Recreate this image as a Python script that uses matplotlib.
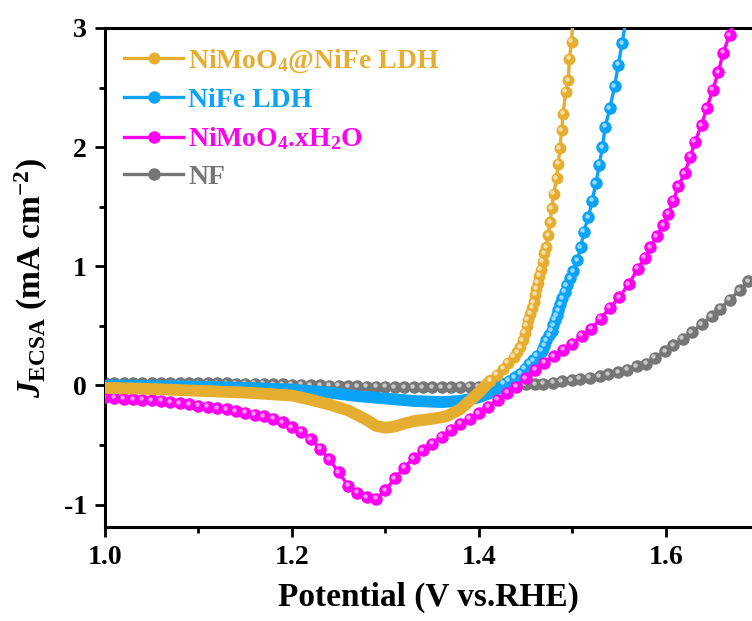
import matplotlib
matplotlib.use('Agg')
import matplotlib.pyplot as plt
from matplotlib.transforms import offset_copy
import numpy as np

plt.rcParams['font.family'] = 'Liberation Serif'
plt.rcParams['font.weight'] = 'bold'
plt.rcParams['axes.labelweight'] = 'bold'
plt.rcParams['mathtext.fontset'] = 'custom'
plt.rcParams['mathtext.rm'] = 'Liberation Serif:bold'
plt.rcParams['mathtext.bf'] = 'Liberation Serif:bold'
plt.rcParams['mathtext.it'] = 'Liberation Serif:bold:italic'
plt.rcParams['mathtext.default'] = 'rm'

# data (potential in V vs RHE, J in mA cm-2)
# NiMoO4@NiFe LDH
gold_v = [1.00, 1.05, 1.10, 1.15, 1.20, 1.22, 1.24, 1.26, 1.28, 1.29, 1.30, 1.31, 1.32,
          1.33, 1.35, 1.365, 1.38, 1.39, 1.40,
          1.412, 1.419, 1.426, 1.431, 1.437, 1.441, 1.444, 1.447, 1.449, 1.451, 1.452,
          1.455, 1.457, 1.4585, 1.460, 1.4615, 1.463, 1.4645, 1.466, 1.468, 1.470, 1.4717,
          1.474, 1.476, 1.4777, 1.480, 1.483, 1.4848, 1.4866, 1.4884, 1.490, 1.4927,
          1.4955, 1.4966, 1.499, 1.5005]
gold_j = [-0.02, -0.03, -0.045, -0.06, -0.085, -0.12, -0.16, -0.21, -0.29, -0.34, -0.355, -0.345, -0.32,
          -0.30, -0.28, -0.26, -0.20, -0.13, -0.06,
          0.04, 0.09, 0.14, 0.19, 0.24, 0.28, 0.32, 0.38, 0.44, 0.50, 0.55,
          0.60, 0.65, 0.70, 0.76, 0.81, 0.86, 0.92, 0.97, 1.04, 1.11, 1.16,
          1.26, 1.37, 1.485, 1.61, 1.74, 1.86, 1.99, 2.14, 2.28, 2.465,
          2.56, 2.74, 2.885, 3.08]

# NiFe LDH
blue_v = [1.00, 1.05, 1.10, 1.15, 1.20, 1.24, 1.27, 1.30, 1.33, 1.36, 1.38, 1.40, 1.41, 1.42,
          1.426, 1.432, 1.438, 1.444, 1.449, 1.454, 1.458, 1.462, 1.467, 1.470, 1.472,
          1.475, 1.478, 1.4795, 1.481, 1.483, 1.485, 1.487, 1.489, 1.4915, 1.494, 1.4975,
          1.501, 1.505, 1.509, 1.512, 1.517, 1.521, 1.525, 1.5287, 1.532, 1.535, 1.540,
          1.545, 1.549, 1.553, 1.5575]
blue_j = [0.00, -0.005, -0.01, -0.02, -0.035, -0.06, -0.09, -0.11, -0.13, -0.14, -0.13, -0.10, -0.07, -0.03,
          0.015, 0.04, 0.07, 0.10, 0.14, 0.18, 0.21, 0.25, 0.29, 0.335, 0.38,
          0.42, 0.46, 0.505, 0.55, 0.59, 0.63, 0.68, 0.73, 0.785, 0.84, 0.90,
          0.96, 1.05, 1.16, 1.29, 1.41, 1.55, 1.695, 1.85, 2.00, 2.17, 2.325,
          2.51, 2.69, 2.87, 3.08]

# NiMoO4.xH2O
pink_v = [1.00, 1.01, 1.02, 1.03, 1.04, 1.05, 1.06, 1.07, 1.08, 1.09,
          1.10, 1.11, 1.12, 1.13, 1.14, 1.15, 1.16, 1.17, 1.18, 1.19,
          1.20, 1.21, 1.22, 1.23, 1.24, 1.25, 1.26, 1.27, 1.28, 1.29,
          1.30, 1.31, 1.32, 1.33, 1.34, 1.35, 1.36, 1.37, 1.38, 1.39,
          1.40, 1.41, 1.42, 1.43, 1.44, 1.45, 1.46, 1.47, 1.48, 1.49,
          1.50, 1.51, 1.52, 1.53, 1.54, 1.55, 1.56, 1.57,
          1.5775, 1.583, 1.590, 1.597, 1.6025, 1.608, 1.613, 1.620, 1.626, 1.631,
          1.638, 1.6435, 1.650, 1.656, 1.661, 1.668, 1.674]
pink_j = [-0.10, -0.105, -0.11, -0.115, -0.12, -0.125, -0.13, -0.14, -0.15, -0.16,
          -0.17, -0.18, -0.19, -0.20, -0.215, -0.23, -0.245, -0.26, -0.28, -0.31,
          -0.35, -0.39, -0.45, -0.53, -0.62, -0.73, -0.84, -0.90, -0.94, -0.95,
          -0.88, -0.78, -0.69, -0.61, -0.545, -0.49, -0.43, -0.37, -0.32, -0.28,
          -0.235, -0.18, -0.12, -0.06, -0.01, 0.06, 0.13, 0.19, 0.245, 0.30,
          0.35, 0.415, 0.475, 0.56, 0.65, 0.74, 0.85, 0.98,
          1.07, 1.16, 1.25, 1.345, 1.44, 1.55, 1.67, 1.78, 1.92, 2.045,
          2.185, 2.325, 2.48, 2.63, 2.79, 2.94, 3.09]

# NF
gray_v = [1.00, 1.01, 1.02, 1.03, 1.04, 1.05, 1.06, 1.07, 1.08, 1.09,
          1.10, 1.11, 1.12, 1.13, 1.14, 1.15, 1.16, 1.17, 1.18, 1.19,
          1.20, 1.21, 1.22, 1.23, 1.24, 1.25, 1.26, 1.27, 1.28, 1.29,
          1.30, 1.31, 1.32, 1.33, 1.34, 1.35, 1.36, 1.37, 1.38, 1.39,
          1.40, 1.41, 1.42, 1.43, 1.44, 1.45, 1.46,
          1.469, 1.4795, 1.4884, 1.499, 1.508, 1.5187, 1.529, 1.538, 1.549, 1.5586,
          1.569, 1.579, 1.588, 1.599, 1.608, 1.618, 1.6275, 1.638, 1.649, 1.658,
          1.668, 1.679, 1.688]
gray_j = [0.02, 0.02, 0.02, 0.02, 0.02, 0.02, 0.02, 0.02, 0.02, 0.02,
          0.02, 0.018, 0.018, 0.017, 0.016, 0.015, 0.014, 0.012, 0.01, 0.008,
          0.006, 0.004, 0.002, 0.0, -0.002, -0.004, -0.006, -0.008, -0.01, -0.012,
          -0.013, -0.014, -0.015, -0.015, -0.015, -0.015, -0.015, -0.014, -0.013, -0.012,
          -0.01, -0.008, -0.005, 0.0, 0.004, 0.008, 0.011,
          0.014, 0.022, 0.034, 0.042, 0.056, 0.064, 0.076, 0.092, 0.109, 0.132,
          0.16, 0.182, 0.233, 0.288, 0.336, 0.392, 0.448, 0.513, 0.58, 0.644,
          0.72, 0.80, 0.876]

labels = [r'NiMoO$_4$@NiFe LDH', 'NiFe LDH', r'NiMoO$_4$.xH$_2$O', 'NF']
colors = ['#E6AE30', '#0AA3F7', '#FF00F0', '#767676']

fig = plt.figure(figsize=(7.52, 6.21), dpi=100)
ax = fig.add_axes([0.1396, 0.151, 0.8604, 0.804])

# (v, j, colour, band cutoff, zorder, marker size)
series = [
    (gold_v, gold_j, colors[0], 1.405, 5, 8.6),
    (blue_v, blue_j, colors[1], 1.423, 3, 9.0),
    (pink_v, pink_j, colors[2], 0.0, 4, 9.0),
    (gray_v, gray_j, colors[3], 0.0, 2, 9.0),
]
hl = offset_copy(ax.transData, fig=fig, x=-1.5, y=1.5, units='dots')
handles = []
for (v, j, c, cut, z, ms), lab in zip(series, labels):
    v = np.array(v)
    j = np.array(j)
    band = v <= cut
    if band.any():
        nb = band.sum()
        ax.plot(v[:nb + 1], j[:nb + 1], '-', color=c, lw=8.5, solid_capstyle='round', zorder=z)
    pts = ~band
    ax.plot(v, j, '-', color=c, lw=2.4, zorder=z)
    ax.plot(v[pts], j[pts], 'o', color=c, ms=ms, mew=0, zorder=z)
    ax.plot(v[pts], j[pts], 'o', color='white', alpha=0.6, ms=3.2, mew=0,
            transform=hl, zorder=z)
    h, = ax.plot([], [], '-o', color=c, lw=2.4, ms=ms, mew=0, label=lab)
    handles.append(h)

ax.set_xlim(1.0, 1.692)
ax.set_ylim(-1.19, 3.0)
ax.set_xticks([1.0, 1.2, 1.4, 1.6])
ax.set_xticks([1.1, 1.3, 1.5], minor=True)
ax.set_yticks([-1, 0, 1, 2, 3])
ax.set_yticks([-0.5, 0.5, 1.5, 2.5], minor=True)
ax.set_xticklabels(['1.0', '1.2', '1.4', '1.6'])
ax.set_yticklabels(['-1', '0', '1', '2', '3'])
ax.tick_params(which='major', direction='out', length=7, width=2, labelsize=20, pad=6)
ax.tick_params(which='minor', direction='out', length=4, width=2)
for s in ['left', 'bottom', 'top']:
    ax.spines[s].set_linewidth(2.2)
ax.spines['right'].set_visible(False)

ax.set_xlabel('Potential (V vs.RHE)', fontsize=24, fontweight='bold', labelpad=8)
ax.set_ylabel(r'$\mathit{J}_{\mathrm{ECSA}}$ (mA cm$^{\mathrm{-2}}$)', fontsize=24, fontweight='bold')
ax.yaxis.set_label_coords(-0.085, 0.5)

leg = ax.legend(handles=handles, loc='upper left', frameon=False, fontsize=20,
                handlelength=2.1, numpoints=1, labelspacing=0.45, handletextpad=0.2,
                borderaxespad=0.3, bbox_to_anchor=(0.0, 1.0))
for t, c in zip(leg.get_texts(), colors):
    t.set_color(c)

fig.savefig('out.png', dpi=100)
